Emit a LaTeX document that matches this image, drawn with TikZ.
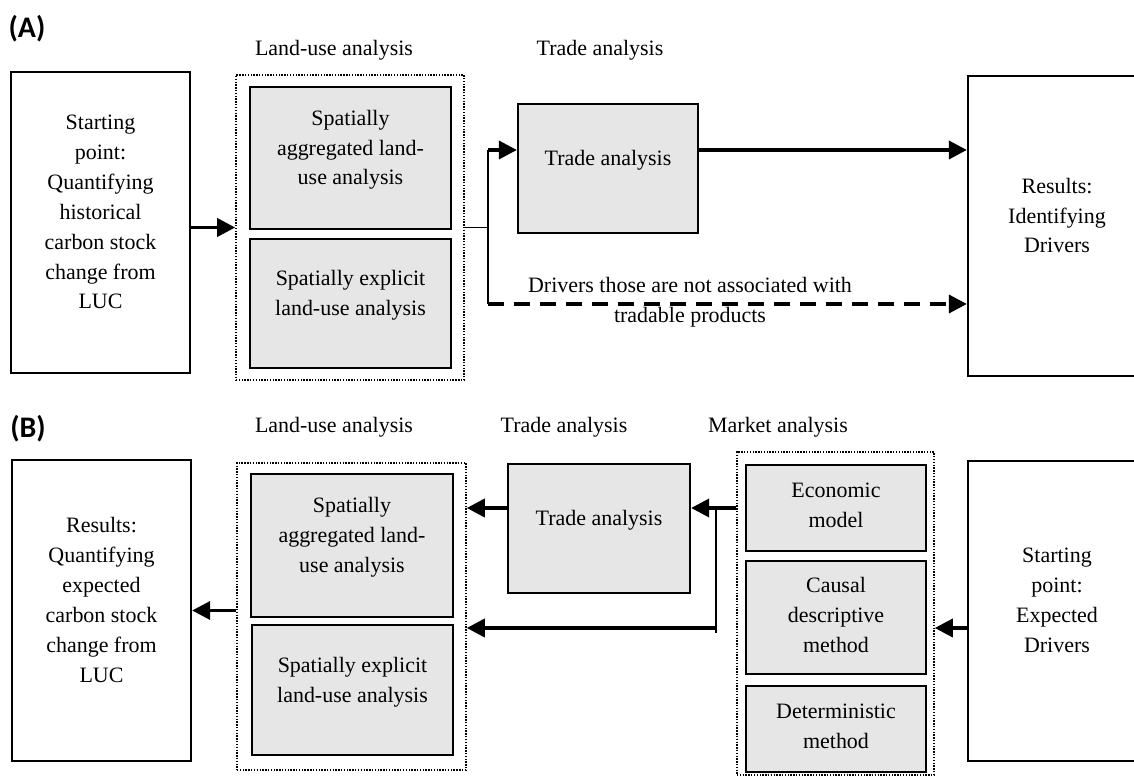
\documentclass[tikz,border=0pt]{standalone}
\usepackage{fontspec}
\setmainfont{Liberation Serif}
\newfontfamily\tagfont{Carlito}
\usetikzlibrary{arrows.meta}
\definecolor{boxgray}{HTML}{E6E6E6}

\begin{document}
\begin{tikzpicture}[
  x=0.02cm, y=-0.02cm,
  font=\fontsize{12.5}{17}\selectfont,
  box/.style={draw, line width=1.3pt, align=center, inner sep=2pt, text depth=0.42cm},
  gbox/.style={box, fill=boxgray},
  mbox/.style={gbox, text depth=0.11cm, minimum width=3.6cm, minimum height=1.72cm},
  grp/.style={draw, line width=0.9pt, dash pattern=on 0.8pt off 0.8pt},
  arr/.style={-{Triangle[length=0.36cm,width=0.36cm]}, line width=2pt},
  bar/.style={line width=1.3pt},
  tag/.style={font=\tagfont\bfseries\fontsize{17}{20}\selectfont},
]
\useasboundingbox (0,0) rectangle (1134,776);

% (A) historical
\node[tag] (tagA) at (27,29) {(A)};
\node (headLandA) at (334,50) {Land-use analysis};
\node (headTradeA) at (600,50) {Trade analysis};

\node[box, minimum width=3.58cm, minimum height=6.02cm] (startA) at (100.5,222.5) {Starting\\point:\\Quantifying\\historical\\carbon stock\\change from\\LUC};
\node[grp, minimum width=4.56cm, minimum height=6.1cm] (landA) at (350,227.5) {};
\node[gbox, minimum width=4.02cm, minimum height=2.84cm] (aggA) at (350.5,158) {Spatially\\aggregated land-\\use analysis};
\node[gbox, minimum width=4.02cm, minimum height=2.58cm] (explA) at (350.5,303.5) {Spatially explicit\\land-use analysis};
\node[gbox, minimum width=3.6cm, minimum height=2.58cm] (tradeA) at (608,168.5) {Trade analysis};
\node[box, minimum width=3.56cm, minimum height=6cm] (resA) at (1057,226) {Results:\\Identifying\\Drivers};

\coordinate (topA) at (488,150);
\coordinate (botA) at (488,304);

\draw[arr] (startA.east |- landA.west) -- (landA.west);
\draw[line width=0.8pt] (landA.east) -- (landA.east -| topA);
\draw[bar] (topA) -- (botA);
\draw[arr] (topA) -- (topA -| tradeA.west);
\draw[arr] (tradeA.east |- topA) -- (topA -| resA.west);
\draw[arr, dash pattern=on 0.32cm off 0.2cm] (botA) -- (botA -| resA.west);
\node[align=center] (note) at (690,302) {Drivers those are not associated with\\tradable products};

% (B) expected
\node[tag] (tagB) at (28,429) {(B)};
\node (headLandB) at (334,427) {Land-use analysis};
\node (headTradeB) at (564,427) {Trade analysis};
\node (headMarket) at (778,427) {Market analysis};

\node[box, minimum width=3.58cm, minimum height=6.02cm] (resB) at (101.5,610.5) {Results:\\Quantifying\\expected\\carbon stock\\change from\\LUC};
\node[grp, minimum width=4.58cm, minimum height=6.14cm] (landB) at (351.5,616.5) {};
\node[gbox, minimum width=4.04cm, minimum height=2.86cm] (aggB) at (352,545.5) {Spatially\\aggregated land-\\use analysis};
\node[gbox, minimum width=4.02cm, minimum height=2.6cm] (explB) at (352.5,690) {Spatially explicit\\land-use analysis};
\node[gbox, minimum width=3.64cm, minimum height=2.58cm] (tradeB) at (599,528.5) {Trade analysis};
\node[grp, minimum width=3.94cm, minimum height=6.46cm] (market) at (835.5,613.5) {};
\node[mbox] (econ) at (836,508) {Economic\\model};
\node[mbox, minimum height=2.26cm] (causal) at (836,617.5) {Causal\\descriptive\\method};
\node[mbox] (determ) at (836,729) {Deterministic\\method};
\node[box, minimum width=3.56cm, minimum height=6cm] (startB) at (1057,611) {Starting\\point:\\Expected\\Drivers};

\coordinate (splitB) at (716,628);
\draw[arr] (startB.west |- splitB) -- (splitB -| market.east);
\draw[arr] (market.west |- econ) -- (tradeB.east |- econ);
\draw[bar] (splitB |- econ) -- ([yshift=-0.1cm]splitB);
\draw[arr] (splitB) -- (splitB -| landB.east);
\draw[arr] (tradeB.west |- econ) -- (landB.east |- econ);
\draw[arr] (landB.west |- resB) -- (resB.east);
\end{tikzpicture}
\end{document}
